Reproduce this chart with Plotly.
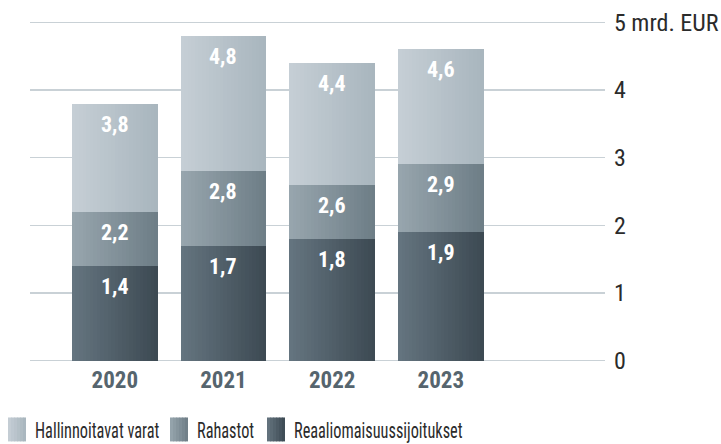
import plotly.graph_objects as go

years = ["2020", "2021", "2022", "2023"]
reaali = [1.4, 1.7, 1.8, 1.9]              # cumulative level 1 (Reaaliomaisuussijoitukset)
rahastot_cum = [2.2, 2.8, 2.6, 2.9]        # cumulative level 2 (+ Rahastot)
hallinnoitavat_cum = [3.8, 4.8, 4.4, 4.6]  # cumulative total (Hallinnoitavat varat)
series_names = ["Hallinnoitavat varat", "Rahastot", "Reaaliomaisuussijoitukset"]
y_ticks = [0, 1, 2, 3, 4, 5]
y_ticktext = ["0", "1", "2", "3", "4", "5 mrd. EUR"]

FONT = "Roboto Condensed, Roboto, sans-serif"
# gradient colours (left, right)
g_dark = ((0x65, 0x75, 0x80), (0x3c, 0x49, 0x52))
g_mid = ((0x98, 0xa6, 0xae), (0x6d, 0x7d, 0x86))
g_light = ((0xc6, 0xcf, 0xd6), (0xa8, 0xb5, 0xbd))

def mix(g, t):
    a, b = g
    return "rgb(%d,%d,%d)" % tuple(round(a[i] + (b[i] - a[i]) * t) for i in range(3))

xs = list(range(len(years)))
zeros = [0] * len(xs)
segments = [
    (zeros, reaali, g_dark),
    (reaali, rahastot_cum, g_mid),
    (rahastot_cum, hallinnoitavat_cum, g_light),
]

fig = go.Figure()
bw = 0.79
K = 24
step = bw / K
for base, top, grad in segments:
    heights = [round(t - b, 3) for b, t in zip(base, top)]
    for j in range(K):
        w = step * (1.6 if j < K - 1 else 1.0)
        fig.add_bar(x=xs, y=heights, base=base, width=w, offset=-bw / 2 + j * step,
                    marker=dict(color=mix(grad, (j + 0.5) / K), line=dict(width=0)),
                    showlegend=False, hoverinfo="skip")

def fmt(v):
    return f"{v:.1f}".replace(".", ",")

for series in (reaali, rahastot_cum, hallinnoitavat_cum):
    for x, v in zip(xs, series):
        fig.add_annotation(x=x, y=v, text=f"<b>{fmt(v)}</b>", showarrow=False,
                           yanchor="top", yshift=-6,
                           font=dict(family=FONT, size=22, color="white"))

# legend (manual): squares + labels
W, H = 721, 444
pl, pr, pt, pb = 30, 605, 18.6, 364.4
pw, ph = pr - pl, pb - pt
legend_items = [(series_names[0], g_light, 8, 33), (series_names[1], g_mid, 170, 195), (series_names[2], g_dark, 267, 292)]
for name, grad, sx, tx in legend_items:
    n = 6
    for j in range(n):
        fig.add_shape(type="rect", xref="paper", yref="paper",
                      x0=(sx + j * 3 - pl) / pw, x1=(sx + (j + 1) * 3 + (0.6 if j < n - 1 else 0) - pl) / pw,
                      y0=(pb - 418) / ph, y1=(pb - 442) / ph,
                      fillcolor=mix(grad, (j + 0.5) / n), line=dict(width=0), layer="above")
    fig.add_annotation(xref="paper", yref="paper", x=(tx - pl) / pw, y=(pb - 431) / ph,
                       xanchor="left", yanchor="middle", text=name, showarrow=False,
                       font=dict(family=FONT, size=22, color="#2b2b2b"))

fig.update_layout(
    width=W, height=H,
    margin=dict(l=pl, r=W - pr, t=pt, b=H - pb, pad=0, autoexpand=False),
    barmode="overlay", bargap=0,
    plot_bgcolor="white", paper_bgcolor="white",
    font=dict(family=FONT, size=21, color="#2b2b2b"),
    xaxis=dict(range=[-0.78, 4.51], tickvals=xs, ticktext=[f"<b>{y}</b>" for y in years],
               showgrid=False, zeroline=False, showline=False, ticks="", automargin=False,
               tickfont=dict(family=FONT, size=23, color="#56656e")),
    yaxis=dict(range=[-0.05, 5.05], side="right", tickvals=y_ticks, ticktext=y_ticktext,
               showgrid=True, gridcolor="#c9d1d6", gridwidth=1.5, zeroline=False,
               showline=False, ticks="", ticklabelstandoff=8, automargin=False,
               tickfont=dict(family=FONT, size=24, color="#2b2b2b")),
)

post = """
document.body.style.margin = '0';
var gd = document.getElementById('{plot_id}');
var names = %s;
gd.querySelectorAll('text.annotation-text').forEach(function(t) {
  if (names.indexOf(t.textContent) >= 0) {
    var w = t.getComputedTextLength();
    var x = parseFloat(t.getAttribute('x'));
    t.setAttribute('text-anchor', 'start');
    t.setAttribute('x', x - w / 2);
    t.setAttribute('textLength', w * 0.74);
    t.setAttribute('lengthAdjust', 'spacingAndGlyphs');
  }
});
""" % str(series_names).replace("'", '"')

fig.write_html("out.html", post_script=post, config={"displayModeBar": False, "staticPlot": True})
